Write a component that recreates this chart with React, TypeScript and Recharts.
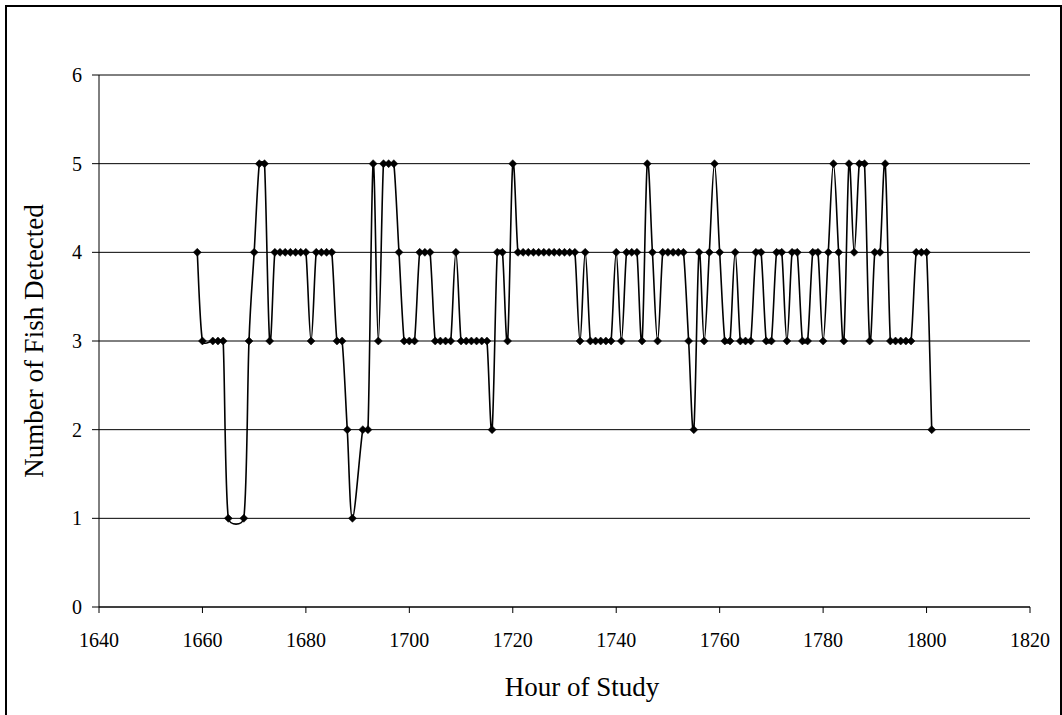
import React from "react"
import { LineChart, Line, XAxis, YAxis, CartesianGrid, Label } from "recharts"

// hour of study (a few hours have no reading)
const hours = [
  1659, 1660, 1662, 1663, 1664, 1665, 1668, 1669, 1670, 1671, 1672, 1673,
  1674, 1675, 1676, 1677, 1678, 1679, 1680, 1681, 1682, 1683, 1684, 1685,
  1686, 1687, 1688, 1689, 1691, 1692, 1693, 1694, 1695, 1696, 1697, 1698,
  1699, 1700, 1701, 1702, 1703, 1704, 1705, 1706, 1707, 1708, 1709, 1710,
  1711, 1712, 1713, 1714, 1715, 1716, 1717, 1718, 1719, 1720, 1721, 1722,
  1723, 1724, 1725, 1726, 1727, 1728, 1729, 1730, 1731, 1732, 1733, 1734,
  1735, 1736, 1737, 1738, 1739, 1740, 1741, 1742, 1743, 1744, 1745, 1746,
  1747, 1748, 1749, 1750, 1751, 1752, 1753, 1754, 1755, 1756, 1757, 1758,
  1759, 1760, 1761, 1762, 1763, 1764, 1765, 1766, 1767, 1768, 1769, 1770,
  1771, 1772, 1773, 1774, 1775, 1776, 1777, 1778, 1779, 1780, 1781, 1782,
  1783, 1784, 1785, 1786, 1787, 1788, 1789, 1790, 1791, 1792, 1793, 1794,
  1795, 1796, 1797, 1798, 1799, 1800, 1801,
]

const fishCounts = [
  4, 3, 3, 3, 3, 1, 1, 3, 4, 5, 5, 3,
  4, 4, 4, 4, 4, 4, 4, 3, 4, 4, 4, 4,
  3, 3, 2, 1, 2, 2, 5, 3, 5, 5, 5, 4,
  3, 3, 3, 4, 4, 4, 3, 3, 3, 3, 4, 3,
  3, 3, 3, 3, 3, 2, 4, 4, 3, 5, 4, 4,
  4, 4, 4, 4, 4, 4, 4, 4, 4, 4, 3, 4,
  3, 3, 3, 3, 3, 4, 3, 4, 4, 4, 3, 5,
  4, 3, 4, 4, 4, 4, 4, 3, 2, 4, 3, 4,
  5, 4, 3, 3, 4, 3, 3, 3, 4, 4, 3, 3,
  4, 4, 3, 4, 4, 3, 3, 4, 4, 3, 4, 5,
  4, 3, 5, 4, 5, 5, 3, 4, 4, 5, 3, 3,
  3, 3, 3, 4, 4, 4, 2,
]

const xTicks = [1640, 1660, 1680, 1700, 1720, 1740, 1760, 1780, 1800, 1820]
const yTicks = [0, 1, 2, 3, 4, 5, 6]

const data = hours.map((hour, i) => ({ hour, fish: fishCounts[i] }))

const FONT = '"Liberation Serif", "Times New Roman", serif'

// spreadsheet-style smoothed line: catmull-rom arms, capped at half the segment
const smoothCurve = (context: any) => {
  let pts: number[][] = []
  const arm = (dx: number, dy: number, seg: number) => {
    const len = Math.hypot(dx, dy)
    const max = seg / 2
    if (len > max && len > 0) return [(dx * max) / len, (dy * max) / len]
    return [dx, dy]
  }
  return {
    areaStart() {},
    areaEnd() {},
    lineStart() {
      pts = []
    },
    point(x: number, y: number) {
      pts.push([x, y])
    },
    lineEnd() {
      if (!pts.length) return
      context.moveTo(pts[0][0], pts[0][1])
      for (let i = 0; i < pts.length - 1; i++) {
        const p0 = pts[Math.max(0, i - 1)]
        const p1 = pts[i]
        const p2 = pts[i + 1]
        const p3 = pts[Math.min(pts.length - 1, i + 2)]
        const seg = Math.hypot(p2[0] - p1[0], p2[1] - p1[1])
        const a = arm((p2[0] - p0[0]) / 6, (p2[1] - p0[1]) / 6, seg)
        const b = arm((p3[0] - p1[0]) / 6, (p3[1] - p1[1]) / 6, seg)
        context.bezierCurveTo(p1[0] + a[0], p1[1] + a[1], p2[0] - b[0], p2[1] - b[1], p2[0], p2[1])
      }
    },
  }
}

const Diamond = (props: any) => {
  const { cx, cy, index } = props
  if (cx == null || cy == null) return <g key={`d-${index}`} />
  const r = 4
  return (
    <path
      key={`d-${index}`}
      d={`M${cx},${cy - r}L${cx + r},${cy}L${cx},${cy + r}L${cx - r},${cy}Z`}
      fill="#000"
      stroke="#000"
      strokeWidth={0.5}
    />
  )
}

export default function App() {
  return (
    <div
      style={{
        position: "absolute",
        left: 0,
        top: 0,
        width: 1062,
        height: 715,
        overflow: "hidden",
        background: "#fff",
      }}
    >
      {/* chart frame */}
      <div
        style={{
          position: "absolute",
          left: 5,
          top: 5,
          width: 1053,
          height: 740,
          border: "2px solid #000",
        }}
      />
      <div style={{ position: "absolute", left: 0, top: 0 }}>
        <LineChart
          width={1062}
          height={715}
          data={data}
          margin={{ top: 75, right: 32, bottom: 78, left: 39 }}
        >
          <CartesianGrid vertical={false} stroke="#000" strokeWidth={1} />
          <XAxis
            dataKey="hour"
            type="number"
            domain={[1640, 1820]}
            ticks={xTicks}
            interval={0}
            height={30}
            tickSize={6}
            tickMargin={20}
            stroke="#000"
            tick={{ fill: "#000", fontSize: 20, fontFamily: FONT }}
          >
            <Label
              content={() => (
                <text x={582} y={696} textAnchor="middle" fontSize={27} fontFamily={FONT} fill="#000">
                  Hour of Study
                </text>
              )}
            />
          </XAxis>
          <YAxis
            type="number"
            domain={[0, 6]}
            ticks={yTicks}
            interval={0}
            width={60}
            tickSize={7}
            tickMargin={10}
            stroke="#000"
            tick={{ fill: "#000", fontSize: 20, fontFamily: FONT }}
          >
            <Label
              content={() => (
                <text
                  x={43}
                  y={341}
                  transform="rotate(-90, 43, 341)"
                  textAnchor="middle"
                  fontSize={27}
                  fontFamily={FONT}
                  fill="#000"
                >
                  Number of Fish Detected
                </text>
              )}
            />
          </YAxis>
          <Line
            dataKey="fish"
            type={smoothCurve as any}
            stroke="#000"
            strokeWidth={1.6}
            dot={Diamond}
            activeDot={false}
            isAnimationActive={false}
          />
        </LineChart>
      </div>
    </div>
  )
}
